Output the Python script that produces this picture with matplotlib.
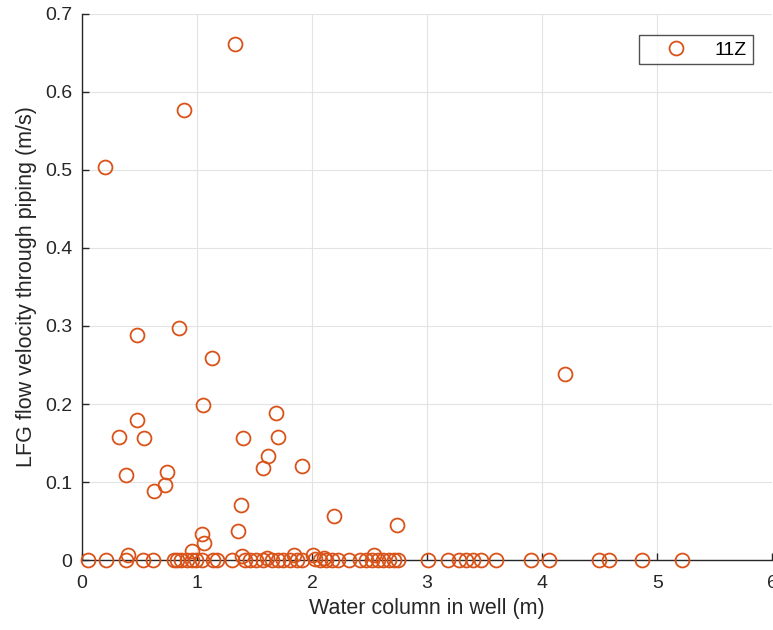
import matplotlib
matplotlib.use('Agg')
import matplotlib.pyplot as plt
import numpy as np

# points (water column m, velocity m/s)
water_col = [0.20, 0.89, 1.33, 0.48, 0.84, 1.13, 1.05, 4.20, 1.69, 0.48,
             0.32, 0.54, 1.40, 1.70, 1.62, 1.57, 1.91, 0.38, 0.74, 0.72,
             0.63, 1.38, 2.19, 2.74, 1.36, 1.04, 1.06, 0.96,
             # the zero row
             0.05, 0.21, 0.38, 0.40, 0.53, 0.62, 0.80, 0.83, 0.86, 0.91,
             0.96, 0.99, 1.04, 1.14, 1.17, 1.30, 1.39, 1.42, 1.46, 1.51,
             1.57, 1.61, 1.65, 1.70, 1.75, 1.81, 1.84, 1.87, 1.91, 2.01,
             2.03, 2.07, 2.10, 2.12, 2.17, 2.23, 2.32, 2.42, 2.47, 2.52,
             2.54, 2.57, 2.62, 2.67, 2.71, 2.75, 3.01, 3.18, 3.28, 3.34,
             3.40, 3.47, 3.60, 3.90, 4.06, 4.49, 4.58, 4.87, 5.22]
velocity = [0.504, 0.577, 0.661, 0.288, 0.297, 0.259, 0.199, 0.238, 0.188, 0.179,
            0.158, 0.157, 0.157, 0.158, 0.133, 0.118, 0.121, 0.109, 0.113, 0.096,
            0.089, 0.071, 0.056, 0.045, 0.037, 0.034, 0.022, 0.012,
            0.0, 0.0, 0.0, 0.006, 0.0, 0.0, 0.0, 0.0, 0.0, 0.0,
            0.0, 0.0, 0.0, 0.0, 0.0, 0.0, 0.005, 0.0, 0.0, 0.0,
            0.0, 0.003, 0.0, 0.0, 0.0, 0.0, 0.006, 0.0, 0.0, 0.006,
            0.002, 0.0, 0.003, 0.0, 0.0, 0.0, 0.0, 0.0, 0.0, 0.0,
            0.006, 0.0, 0.0, 0.0, 0.0, 0.0, 0.0, 0.0, 0.0, 0.0,
            0.0, 0.0, 0.0, 0.0, 0.0, 0.0, 0.0, 0.0, 0.0]
series_name = "11Z"

plt.rcParams['font.family'] = ['Liberation Sans', 'DejaVu Sans']

fig = plt.figure(figsize=(7.73, 6.3), dpi=100)
ax = fig.add_axes([0.106, 0.111, 0.893, 0.867])

ax.plot(water_col, velocity, linestyle='none', marker='o', markersize=10,
        markerfacecolor='none', markeredgecolor='#D95319', markeredgewidth=1.3,
        label=series_name, clip_on=False, zorder=3)

ax.set_xlim(0, 6)
ax.set_ylim(0, 0.7)
ax.set_xticks(np.arange(0, 7, 1))
ax.set_yticks(np.arange(0, 0.71, 0.1))
ax.set_yticklabels(['0', '0.1', '0.2', '0.3', '0.4', '0.5', '0.6', '0.7'])

ax.grid(True, color='#e3e3e3', linewidth=0.8)
ax.set_axisbelow(True)
for s in ['top', 'right']:
    ax.spines[s].set_visible(False)
for s in ['left', 'bottom']:
    ax.spines[s].set_color('#262626')
    ax.spines[s].set_linewidth(1.0)
ax.tick_params(direction='in', length=5, width=1, colors='#262626',
               labelsize=14)
ax.tick_params(axis='x', pad=11)
ax.tick_params(axis='y', pad=7)

ax.set_xlabel("Water column in well (m)", fontsize=15.5, color='#262626', labelpad=4)
ax.set_ylabel("LFG flow velocity through piping (m/s)", fontsize=15.5,
              color='#262626', labelpad=6)

leg = ax.legend(loc='upper right', bbox_to_anchor=(0.972, 0.961), borderaxespad=0,
                fontsize=14, frameon=True, fancybox=False, edgecolor='#262626',
                handlelength=3.2, handletextpad=0.4, borderpad=0.3)
leg.get_frame().set_linewidth(1.0)

plt.savefig("out.png", dpi=100)
